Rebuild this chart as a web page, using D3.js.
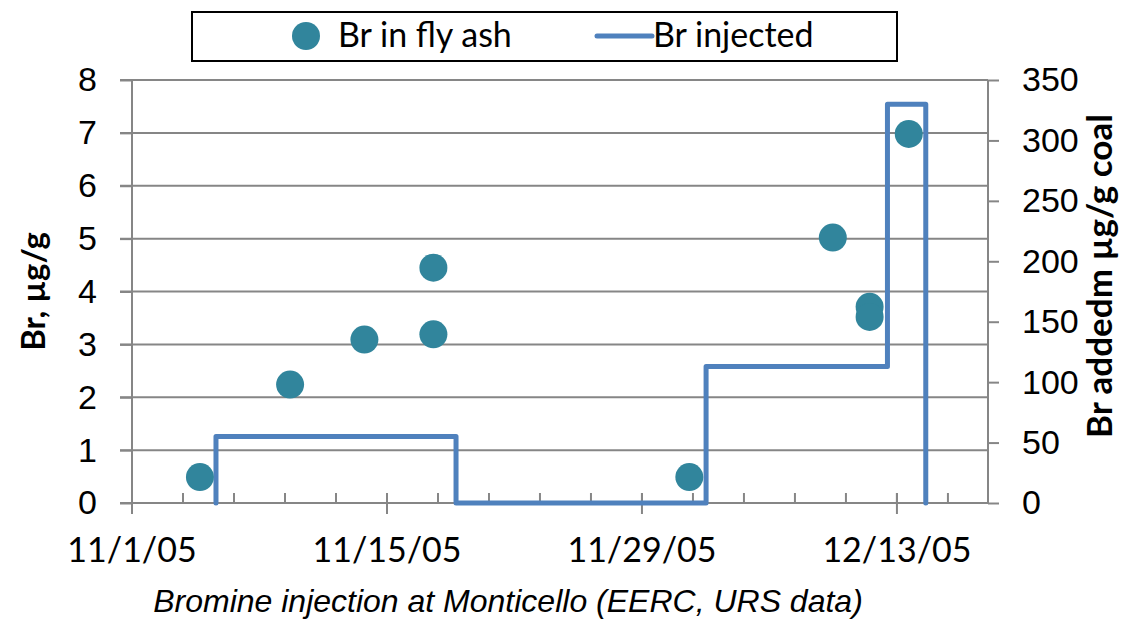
<!DOCTYPE html>
<html>
<head>
<meta charset="utf-8">
<style>
    body { margin: 0; background: #fff; }
    svg { display: block; font-family: "Lato", "Open Sans", sans-serif; }
    .tick-label { font-size: 34px; fill: #000; }
    .axis-title { font-size: 33px; font-weight: bold; fill: #000; }
    .legend-text { font-size: 34px; fill: #000; }
    .caption { font-family: "Liberation Sans", sans-serif; font-style: italic; font-size: 32px; fill: #000; }
</style>
</head>
<body>
<svg width="1124" height="622"></svg>
<script src="https://d3js.org/d3.v7.min.js"></script>
<script>
// Br in fly ash (left axis, ug/g)
const ashDates = ["2005-11-04T17:30", "2005-11-09T16:20", "2005-11-13T18:15", "2005-11-17T13:10",
    "2005-11-17T13:10", "2005-12-01T14:25", "2005-12-09T11:30", "2005-12-11T12:00",
    "2005-12-11T12:00", "2005-12-13T15:35"];
const ashValues = [0.49, 2.24, 3.09, 4.45, 3.19, 0.49, 5.02, 3.71, 3.52, 6.98];

// Br injected (right axis, ug/g coal) - step changes
const injDates = ["2005-11-05T14:40", "2005-11-05T14:40", "2005-11-18T19:00", "2005-12-02T12:30",
    "2005-12-12T11:30", "2005-12-14T14:00"];
const injValues = [0, 55, 0, 113, 330, 0];

const xTickLabels = ["11/1/05", "11/15/05", "11/29/05", "12/13/05"];
const yLeftTicks = [0, 1, 2, 3, 4, 5, 6, 7, 8];
const yRightTicks = [0, 50, 100, 150, 200, 250, 300, 350];

const ashColor = "#31859C";
const injColor = "#4F81BD";
const gridColor = "#868686";

const parse = d3.timeParse("%Y-%m-%dT%H:%M");
const svg = d3.select("svg");

const plot = { left: 132, right: 988, top: 80, bottom: 503 };

const x = d3.scaleTime()
    .domain([new Date(2005, 10, 1), new Date(2005, 11, 18)])
    .range([plot.left, plot.right]);
const y = d3.scaleLinear().domain([0, 8]).range([plot.bottom, plot.top]);
const y2 = d3.scaleLinear().domain([0, 350]).range([plot.bottom, plot.top]);

const dayMs = 864e5;
const start = x.domain()[0].getTime();
const majorTicks = d3.range(0, 47, 14).map(d => new Date(start + d * dayMs));
const minorTicks = d3.range(0, 47, 2.8).map(d => new Date(start + d * dayMs));

// gridlines
svg.append("g")
    .selectAll("line")
    .data(yLeftTicks.filter(d => d > 0))
    .join("line")
    .attr("x1", plot.left - 12)
    .attr("x2", plot.right)
    .attr("y1", d => y(d))
    .attr("y2", d => y(d))
    .attr("stroke", gridColor)
    .attr("stroke-width", 2);

// left axis
svg.append("g")
    .attr("transform", `translate(${plot.left},0)`)
    .call(d3.axisLeft(y).tickValues(yLeftTicks).tickSize(12).tickPadding(23))
    .call(g => g.selectAll("line, path").attr("stroke", gridColor).attr("stroke-width", 2))
    .call(g => g.select(".domain").attr("d", `M0,${plot.top}V${plot.bottom + 11}`))
    .call(g => g.selectAll("text").attr("class", "tick-label").attr("font-size", null).attr("font-family", null));

// right axis
svg.append("g")
    .attr("transform", `translate(${plot.right},0)`)
    .call(d3.axisRight(y2).tickValues(yRightTicks).tickSize(11).tickPadding(23))
    .call(g => g.selectAll("line, path").attr("stroke", gridColor).attr("stroke-width", 2))
    .call(g => g.select(".domain").attr("d", `M0,${plot.top}V${plot.bottom}`))
    .call(g => g.selectAll("text").attr("class", "tick-label").attr("font-size", null).attr("font-family", null));

// x axis
const xg = svg.append("g");
xg.append("line")
    .attr("x1", plot.left - 12).attr("x2", plot.right)
    .attr("y1", plot.bottom).attr("y2", plot.bottom)
    .attr("stroke", gridColor).attr("stroke-width", 2);
xg.selectAll(".minor")
    .data(minorTicks)
    .join("line")
    .attr("class", "minor")
    .attr("x1", d => x(d)).attr("x2", d => x(d))
    .attr("y1", plot.bottom - 10).attr("y2", plot.bottom)
    .attr("stroke", gridColor).attr("stroke-width", 2);
xg.selectAll(".major")
    .data(majorTicks)
    .join("line")
    .attr("class", "major")
    .attr("x1", d => x(d)).attr("x2", d => x(d))
    .attr("y1", plot.bottom - 10).attr("y2", plot.bottom + 11)
    .attr("stroke", gridColor).attr("stroke-width", 2);
xg.selectAll("text")
    .data(majorTicks)
    .join("text")
    .attr("class", "tick-label")
    .attr("x", d => x(d))
    .attr("y", 562)
    .attr("text-anchor", "middle")
    .text((d, i) => xTickLabels[i]);

// injected step line
const injData = injDates.map((d, i) => ({ date: parse(d), value: injValues[i] }));
svg.append("path")
    .datum(injData)
    .attr("fill", "none")
    .attr("stroke", injColor)
    .attr("stroke-width", 5)
    .attr("stroke-linejoin", "round")
    .attr("stroke-linecap", "round")
    .attr("d", d3.line()
        .x(d => x(d.date))
        .y(d => y2(d.value))
        .curve(d3.curveStepAfter));

// fly ash points
const ashData = ashDates.map((d, i) => ({ date: parse(d), value: ashValues[i] }));
svg.append("g")
    .selectAll("circle")
    .data(ashData)
    .join("circle")
    .attr("cx", d => x(d.date))
    .attr("cy", d => y(d.value))
    .attr("r", 14)
    .attr("fill", ashColor);

// axis titles
svg.append("text")
    .attr("class", "axis-title")
    .attr("transform", `translate(45,${(plot.top + plot.bottom) / 2}) rotate(-90)`)
    .attr("text-anchor", "middle")
    .text("Br, µg/g");

svg.append("text")
    .attr("class", "axis-title")
    .style("font-size", "35px")
    .attr("transform", "translate(1112,276) rotate(-90)")
    .attr("text-anchor", "middle")
    .text("Br addedm µg/g coal");

// legend
const legend = svg.append("g");
legend.append("rect")
    .attr("x", 192).attr("y", 12)
    .attr("width", 705).attr("height", 49)
    .attr("fill", "#fff")
    .attr("stroke", "#000")
    .attr("stroke-width", 2);
legend.append("circle")
    .attr("cx", 306).attr("cy", 36).attr("r", 14)
    .attr("fill", ashColor);
legend.append("text")
    .attr("class", "legend-text")
    .attr("x", 338).attr("y", 47)
    .text("Br in fly ash");
legend.append("line")
    .attr("x1", 597).attr("x2", 652)
    .attr("y1", 36).attr("y2", 36)
    .attr("stroke", injColor).attr("stroke-width", 5)
    .attr("stroke-linecap", "round");
legend.append("text")
    .attr("class", "legend-text")
    .attr("x", 653).attr("y", 47)
    .text("Br injected");

// caption
svg.append("text")
    .attr("class", "caption")
    .attr("x", 508).attr("y", 612)
    .attr("text-anchor", "middle")
    .text("Bromine injection at Monticello (EERC, URS data)");
</script>
</body>
</html>
